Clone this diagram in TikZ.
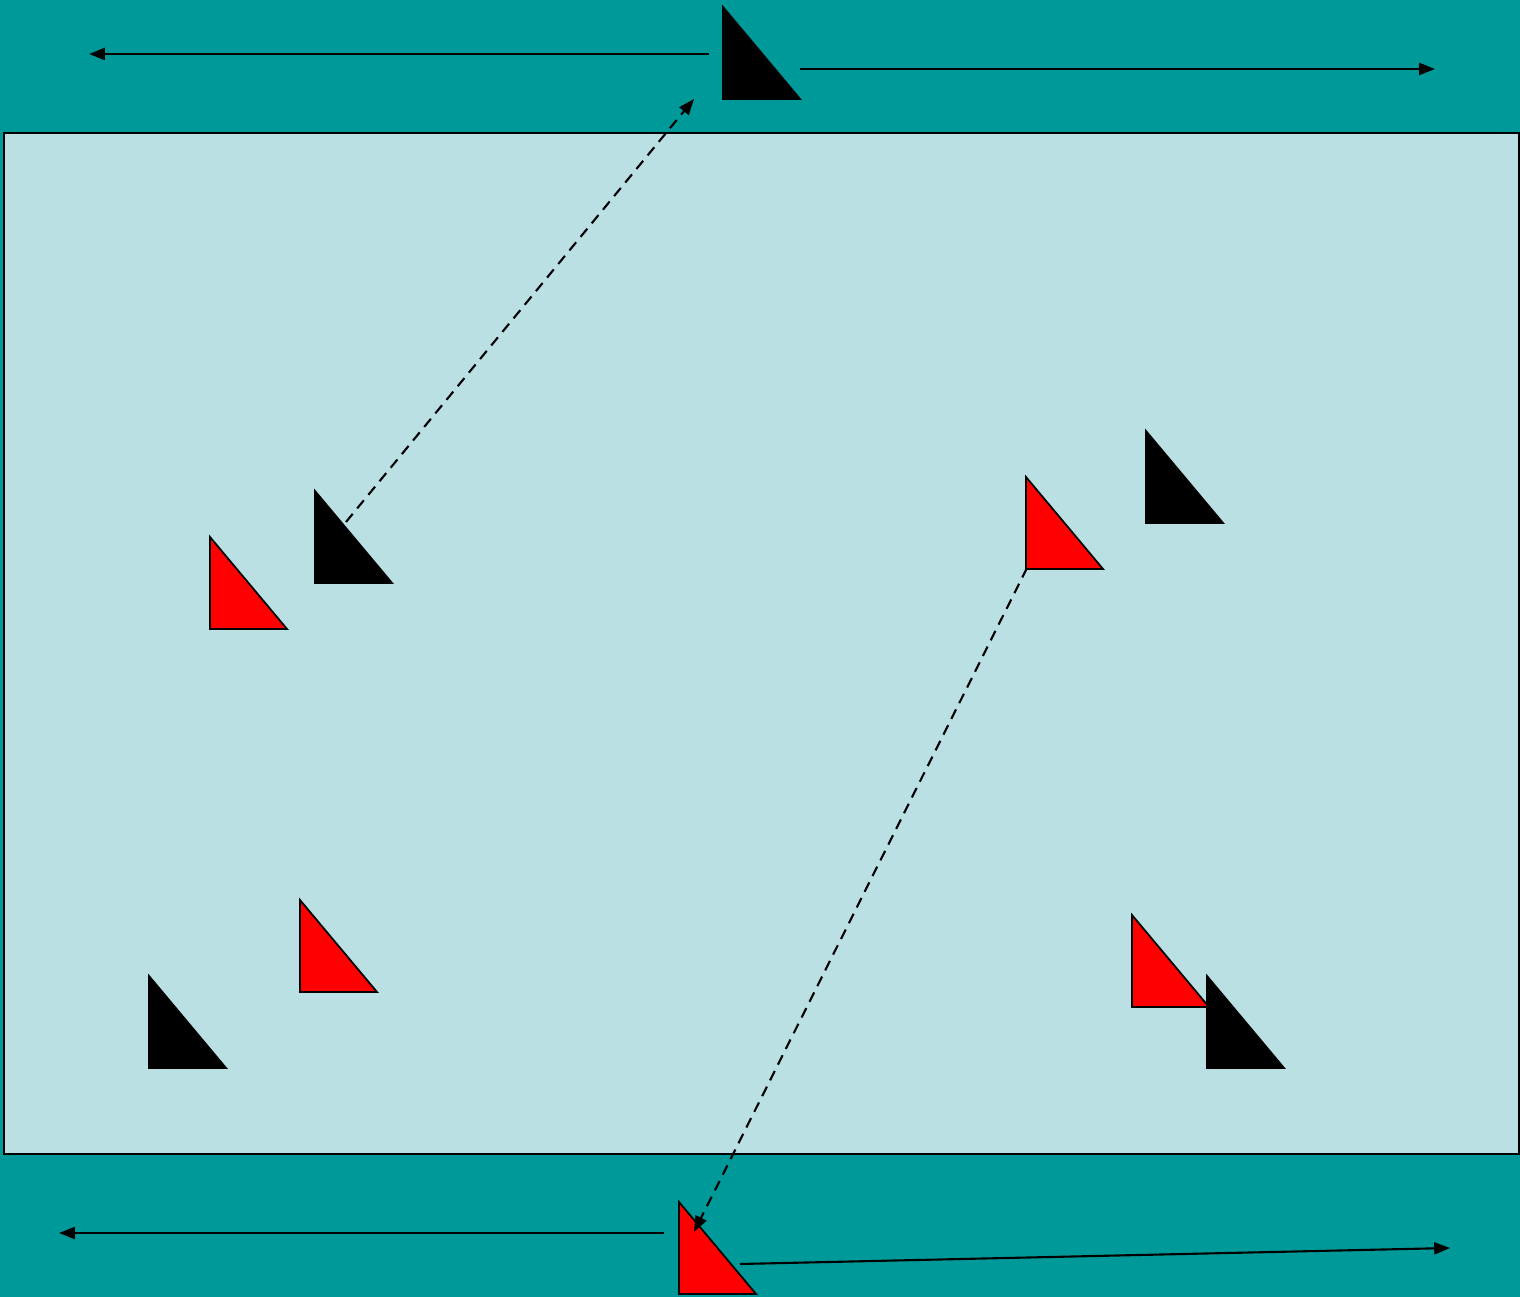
\documentclass[tikz,border=0pt]{standalone}
\usetikzlibrary{arrows.meta}
\definecolor{deck}{HTML}{009999}
\definecolor{water}{HTML}{BBE0E3}
\tikzset{
  flag/.pic={\path[pic actions] (0,0) -- (0,92) -- (77,92) -- cycle;}
}
\begin{document}
\begin{tikzpicture}[
  x=0.01cm,y=-0.01cm,
  pool/.style={fill=water,draw=black,line width=0.6pt},
  redflag/.style={fill=red,draw=black,line width=0.5pt},
  blackflag/.style={fill=black,draw=black,line width=0.5pt},
  swim/.style={line width=0.6pt,-{Triangle[length=4.5pt,width=3.4pt]}},
  pass/.style={swim,dash pattern=on 3pt off 2pt}
]
  \useasboundingbox (0,0) rectangle (1520,1297);
  \fill[deck] (0,0) rectangle (1520,1297);
  \draw[pool] (4,133) rectangle (1519,1154);
  % flags
  \pic[blackflag] (b0) at (723,7) {flag};
  \pic[blackflag] (b1) at (315,491) {flag};
  \pic[redflag] (r1) at (210,537) {flag};
  \pic[redflag] (r2) at (1026,477) {flag};
  \pic[blackflag] (b2) at (1146,431) {flag};
  \pic[redflag] (r3) at (300,900) {flag};
  \pic[blackflag] (b3) at (149,976) {flag};
  \pic[redflag] (r4) at (1132,915) {flag};
  \pic[blackflag] (b4) at (1207,976) {flag};
  \pic[redflag] (r0) at (679,1202) {flag};
  % arrow ends
  \coordinate (tl0) at (709,54);
  \coordinate (tl1) at (89,54);
  \coordinate (tr0) at (800,69);
  \coordinate (tr1) at (1435,69);
  \coordinate (bl0) at (664,1233);
  \coordinate (bl1) at (59,1233);
  \coordinate (br0) at (740,1264);
  \coordinate (br1) at (1450,1248);
  \coordinate (p1a) at (346,522);
  \coordinate (p1b) at (694,99);
  \coordinate (p2a) at (1027,568);
  \coordinate (p2b) at (694,1232);
  \draw[swim] (tl0) -- (tl1);
  \draw[swim] (tr0) -- (tr1);
  \draw[swim] (bl0) -- (bl1);
  \draw[swim] (br0) -- (br1);
  \draw[pass] (p1a) -- (p1b);
  \draw[pass] (p2a) -- (p2b);
\end{tikzpicture}
\end{document}
